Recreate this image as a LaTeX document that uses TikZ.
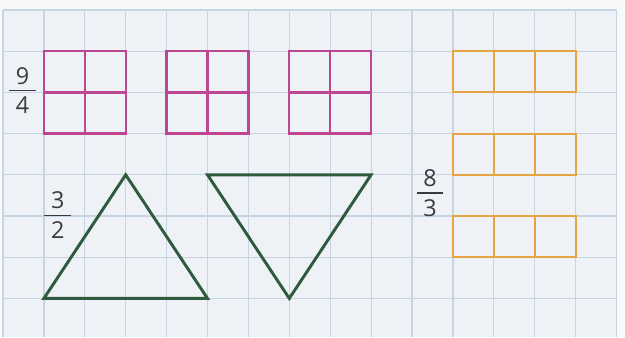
\documentclass[tikz,border=0pt]{standalone}
\usepackage{fontspec}
\setmainfont{Open Sans}
\definecolor{paper}{HTML}{EEF1F6}
\definecolor{paperout}{HTML}{F7F8FA}
\definecolor{gridc}{HTML}{C6D5E4}
\definecolor{pinkc}{HTML}{BE4590}
\definecolor{orangec}{HTML}{E6A445}
\definecolor{greenc}{HTML}{2F5A3E}
\definecolor{textc}{HTML}{3A3A3A}
\tikzset{
  gridline/.style={gridc, line width=0.9pt},
  pinkbox/.style={pinkc, line width=1.7pt},
  orangebox/.style={orangec, line width=1.6pt},
  greentri/.style={greenc, line width=2.2pt, line join=miter},
  digit/.style={inner sep=0pt, text=textc, font=\fontsize{17.5}{19}\selectfont},
  fracbar/.style={textc, line width=1pt}
}
\begin{document}
\begin{tikzpicture}[x=0.75pt,y=-0.75pt]
\useasboundingbox (0,0) rectangle (625,337);
\fill[paperout] (0,0) rectangle (625,337);
\begin{scope}[xshift=2.25pt,yshift=-7.5pt,x=30.675pt,y=-30.9pt]
  \fill[paper] (0,0) rectangle (15,7.94);
  \foreach \i in {0,...,15} \draw[gridline] (\i,0) -- (\i,7.94);
  \foreach \j in {0,...,7} \draw[gridline] (0,\j) -- (15,\j);
  % pink squares
  \foreach \a in {1,4,7} {
    \draw[pinkbox] (\a,1) rectangle (\a+2,3);
    \draw[pinkbox] (\a+1,1) -- (\a+1,3);
    \draw[pinkbox] (\a,2) -- (\a+2,2);
  }
  % orange rectangles
  \foreach \b in {1,3,5} {
    \draw[orangebox] (11,\b) rectangle (14,\b+1);
    \draw[orangebox] (12,\b) -- (12,\b+1);
    \draw[orangebox] (13,\b) -- (13,\b+1);
  }
  % triangles
  \draw[greentri] (1,7) -- (3,4) -- (5,7) -- cycle;
  \draw[greentri] (5,4) -- (9,4) -- (7,7) -- cycle;
  % fractions
  \coordinate (b1) at (0.48,1.96);
  \node[digit, anchor=south] (n1) at ([yshift=4.5pt]b1) {9};
  \node[digit, anchor=north] (d1) at ([yshift=-4.5pt]b1) {4};
  \draw[fracbar] ([xshift=-10pt]b1) -- ([xshift=10pt]b1);
  \coordinate (b2) at (1.34,4.98);
  \node[digit, anchor=south] (n2) at ([yshift=4.5pt]b2) {3};
  \node[digit, anchor=north] (d2) at ([yshift=-4.5pt]b2) {2};
  \draw[fracbar] ([xshift=-10pt]b2) -- ([xshift=10pt]b2);
  \coordinate (b3) at (10.44,4.44);
  \node[digit, anchor=south] (n3) at ([yshift=4.5pt]b3) {8};
  \node[digit, anchor=north] (d3) at ([yshift=-4.5pt]b3) {3};
  \draw[fracbar] ([xshift=-10pt]b3) -- ([xshift=10pt]b3);
\end{scope}
\end{tikzpicture}
\end{document}
